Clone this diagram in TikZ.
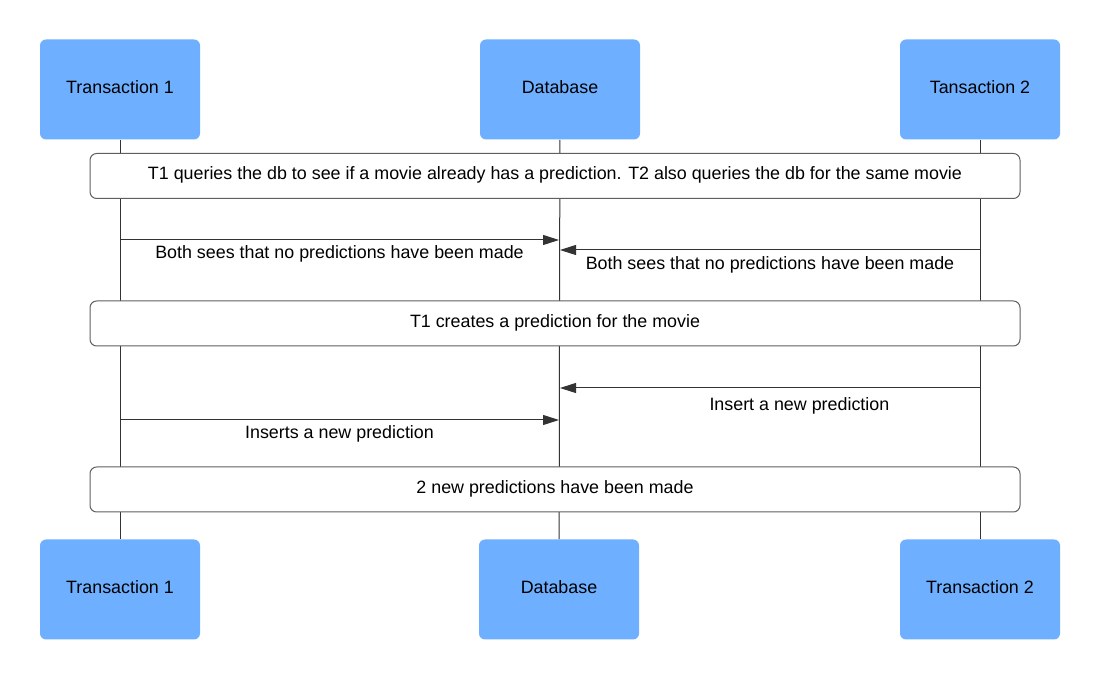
\documentclass[tikz,border=0pt]{standalone}
\usepackage{fontspec}
\setmainfont{Liberation Sans}
\usetikzlibrary{arrows.meta}
\definecolor{actorblue}{RGB}{110,176,255}
\definecolor{linegray}{RGB}{51,51,51}
\definecolor{notegray}{RGB}{95,95,95}
\begin{document}
\begin{tikzpicture}[x=0.75pt,y=-0.75pt,font=\fontsize{13.4}{16}\selectfont,
	actor/.style={fill=actorblue,rounded corners=4.5pt,inner sep=0pt,
		text height=10pt,text depth=4pt,minimum width=120pt,minimum height=75pt},
	note/.style={draw=notegray,line width=0.75pt,fill=white,rounded corners=5pt,
		text height=10pt,text depth=4pt,inner sep=0pt,minimum width=697.5pt,minimum height=33.75pt},
	life/.style={draw=linegray,line width=0.75pt},
	msg/.style={draw=linegray,line width=0.75pt,-{Triangle[length=12pt,width=7.5pt]}},
	msglabel/.style={inner sep=0pt,text height=10pt,text depth=4pt}]
			\path[use as bounding box] (0,0) rectangle (1100,680);
			
			\node[actor] (T1top) at (120,89.5) {Transaction 1};
			\node[actor] (DBtop) at (560,89.5) {Database};
			\node[actor] (T2top) at (980,89.5) {Tansaction 2};
			\node[actor] (T1bot) at (120,589.5) {Transaction 1};
			\node[actor] (DBbot) at (559,589.5) {Database};
			\node[actor] (T2bot) at (980,589.5) {Transaction 2};
			
			\path[life] (T1top) -- (T1bot);
			\path[life] (DBtop) -- (DBbot);
			\path[life] (T2top) -- (T2bot);
			
			\node[note] (N1) at (555,176) {T1 queries the db to see if a movie already has a prediction. T2 also queries the db for the same movie};
			\node[note] (N2) at (555,323.5) {T1 creates a prediction for the movie};
			\node[note] (N3) at (555,489.5) {2 new predictions have been made};
			
			\coordinate (A1) at (120,240);
			\coordinate (A2) at (559,240);
			\coordinate (B1) at (980,250);
			\coordinate (B2) at (560,250);
			\coordinate (C1) at (980,388);
			\coordinate (C2) at (560,388);
			\coordinate (D1) at (120,420);
			\coordinate (D2) at (559,420);
			
			\path[msg] (A1) -- node[msglabel,below=3.8pt] {Both sees that no predictions have been made} (A2);
			\path[msg] (B1) -- node[msglabel,below=4.5pt] {Both sees that no predictions have been made} (B2);
			\path[msg] (C1) -- node[msglabel,below=6.8pt,pos=0.43] {Insert a new prediction} (C2);
			\path[msg] (D1) -- node[msglabel,below=3.8pt] {Inserts a new prediction} (D2);
			\end{tikzpicture}
\end{document}
